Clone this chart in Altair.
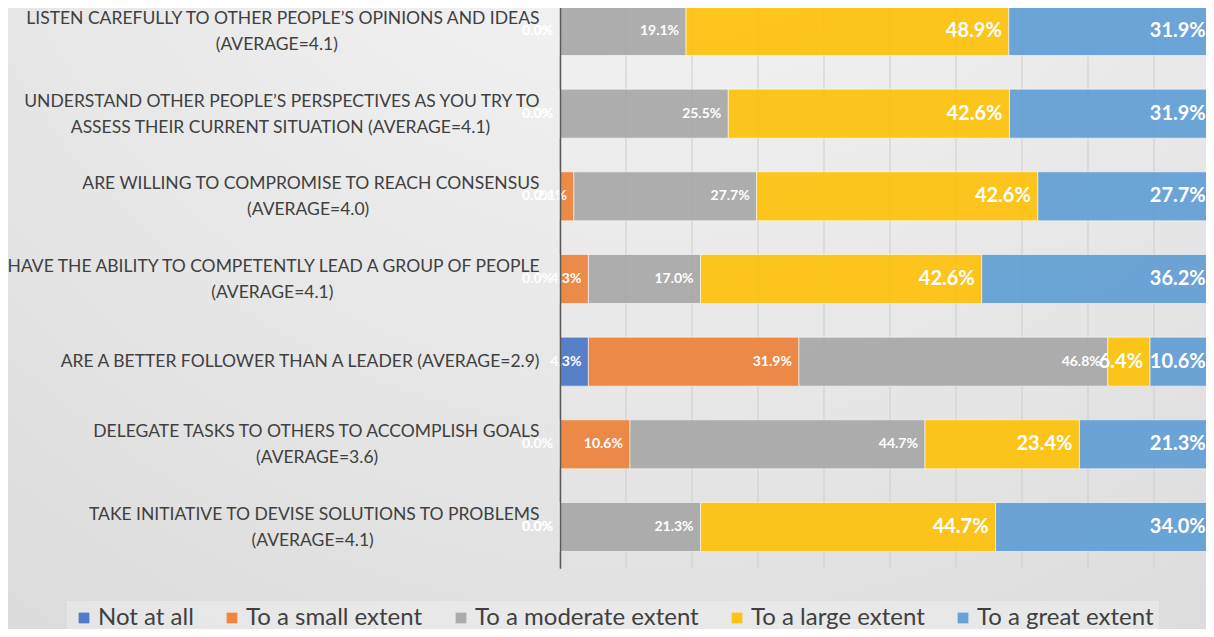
import altair as alt
import pandas as pd

# ---------------- data ----------------
ITEM_LINE1 = [
    "LISTEN CAREFULLY TO OTHER PEOPLE’S OPINIONS AND IDEAS",
    "UNDERSTAND OTHER PEOPLE’S PERSPECTIVES AS YOU TRY TO",
    "ARE WILLING TO COMPROMISE TO REACH CONSENSUS",
    "HAVE THE ABILITY TO COMPETENTLY LEAD A GROUP OF PEOPLE",
    "ARE A BETTER FOLLOWER THAN A LEADER (AVERAGE=2.9)",
    "DELEGATE TASKS TO OTHERS TO ACCOMPLISH GOALS",
    "TAKE INITIATIVE TO DEVISE SOLUTIONS TO PROBLEMS",
]
ITEM_LINE2 = [
    "(AVERAGE=4.1)",
    "ASSESS THEIR CURRENT SITUATION (AVERAGE=4.1)",
    "(AVERAGE=4.0)",
    "(AVERAGE=4.1)",
    "",
    "(AVERAGE=3.6)",
    "(AVERAGE=4.1)",
]
CATEGORIES = ["Not at all", "To a small extent", "To a moderate extent",
              "To a large extent", "To a great extent"]
NOT_AT_ALL = [0.0, 0.0, 0.0, 0.0, 4.3, 0.0, 0.0]
SMALL      = [0.0, 0.0, 2.1, 4.3, 31.9, 10.6, 0.0]
MODERATE   = [19.1, 25.5, 27.7, 17.0, 46.8, 44.7, 21.3]
LARGE      = [48.9, 42.6, 42.6, 42.6, 6.4, 23.4, 44.7]
GREAT      = [31.9, 31.9, 27.7, 36.2, 10.6, 21.3, 34.0]
GRID_TICKS = [0, 10, 20, 30, 40, 50, 60, 70, 80, 90, 100]

# ---------------- styles ----------------
COLORS = ["#4472c4", "#ed7d31", "#a5a5a5", "#ffc000", "#5b9bd5"]
LINE2_PAD = [45, 11, 38, 46, 0, 36, 37]   # no-break spaces centring the 2nd label line
NBSP = "\u00a0"
WJ = "\u2060"   # keeps the padding from being trimmed

series = [NOT_AT_ALL, SMALL, MODERATE, LARGE, GREAT]
display = []
for l1, l2, pad in zip(ITEM_LINE1, ITEM_LINE2, LINE2_PAD):
    display.append(l1 if not l2 else l1 + "|" + l2 + NBSP * pad + WJ)

rows = []
for i, name in enumerate(display):
    for c, cat in enumerate(CATEGORIES):
        rows.append({"item": name, "item_idx": i, "cat": cat, "cat_idx": c,
                     "value": series[c][i]})
df = pd.DataFrame(rows)

xscale = alt.Scale(domain=[0, 100], range=[0, 660], nice=False, zero=True)
yscale = alt.Scale(range=[-18.35, 560.3], paddingInner=0.407, paddingOuter=0.2035)
yaxis = alt.Axis(title=None, labelExpr="split(datum.label, '|')", labelFont="Lato",
                 labelFontSize=17.5, labelColor="#404040", labelPadding=21, ticks=False,
                 labelLimit=700, labelLineHeight=26, domainColor="#595959",
                 domainWidth=1.5, labelAlign="right", labelBaseline="middle", zindex=1,
                 labelOffset={"condition": {"test": "indexof(datum.label, '|') < 0",
                                            "value": 0}, "value": -12},
                 grid=False)
Y = alt.Y("item:N", sort=display, scale=yscale, axis=yaxis)

bg = alt.Chart(pd.DataFrame({"a": [0]})).mark_rect(
    fill=alt.RadialGradient(
        gradient="radial", x1=0.52, y1=0.0, r1=0, x2=0.52, y2=0.0, r2=1.15,
        stops=[alt.GradientStop(color="#f9f9f9", offset=0),
               alt.GradientStop(color="#e6e6e6", offset=0.5),
               alt.GradientStop(color="#d8d8d8", offset=0.85),
               alt.GradientStop(color="#cbcbcb", offset=1)]),
    strokeWidth=0,
).encode(x=alt.value(-570), x2=alt.value(700), y=alt.value(-20), y2=alt.value(660))

grid = alt.Chart(pd.DataFrame({"g": GRID_TICKS})).mark_rule(
    color="#cdcdcd", strokeWidth=1
).encode(x=alt.X("g:Q", scale=xscale, axis=None))

base = alt.Chart(df).transform_stack(
    stack="value", groupby=["item"], as_=["v0", "v1"],
    sort=[alt.SortField("cat_idx", order="ascending")],
)

bars = base.mark_bar(opacity=0.88, stroke="white", strokeWidth=1, strokeOpacity=0.6).encode(
    x=alt.X("v0:Q", scale=xscale, axis=None),
    x2="v1:Q",
    y=Y,
    color=alt.Color("cat:N", scale=alt.Scale(domain=CATEGORIES, range=COLORS),
                    legend=alt.Legend(
                        orient="none", legendX=-493, legendY=593, direction="horizontal",
                        columns=5, title=None, symbolType="square", symbolSize=115,
                        symbolStrokeWidth=0, symbolOpacity=0.92, labelFont="Lato",
                        labelFontSize=24, labelColor="#404040", labelLimit=400,
                        columnPadding=26, labelOffset=2, padding=5,
                        fillColor="rgba(255,255,255,0.28)")),
)

text = base.transform_calculate(
    lbl="format(datum.value, '.1f') + '%'",
    fs="datum.cat_idx >= 3 ? 20 : 14",
    lx="min(datum.v1, 98.9)",   # keep the right-most labels inside the picture
).mark_text(align="right", baseline="middle", dx=-7, font="Lato", fontWeight="bold",
            color="white").encode(
    x=alt.X("lx:Q", scale=xscale, axis=None),
    y=Y,
    text="lbl:N",
    size=alt.Size("fs:Q", scale=None, legend=None),
)

chart = alt.layer(bg, grid, bars, text).properties(
    width=646, height=560,
    padding={"left": 552, "top": 0, "right": 0, "bottom": 61},
    autosize=alt.AutoSizeParams(type="none"),
).configure_view(stroke=None)

chart.save("out.html", embed_options={"renderer": "svg", "actions": False})
